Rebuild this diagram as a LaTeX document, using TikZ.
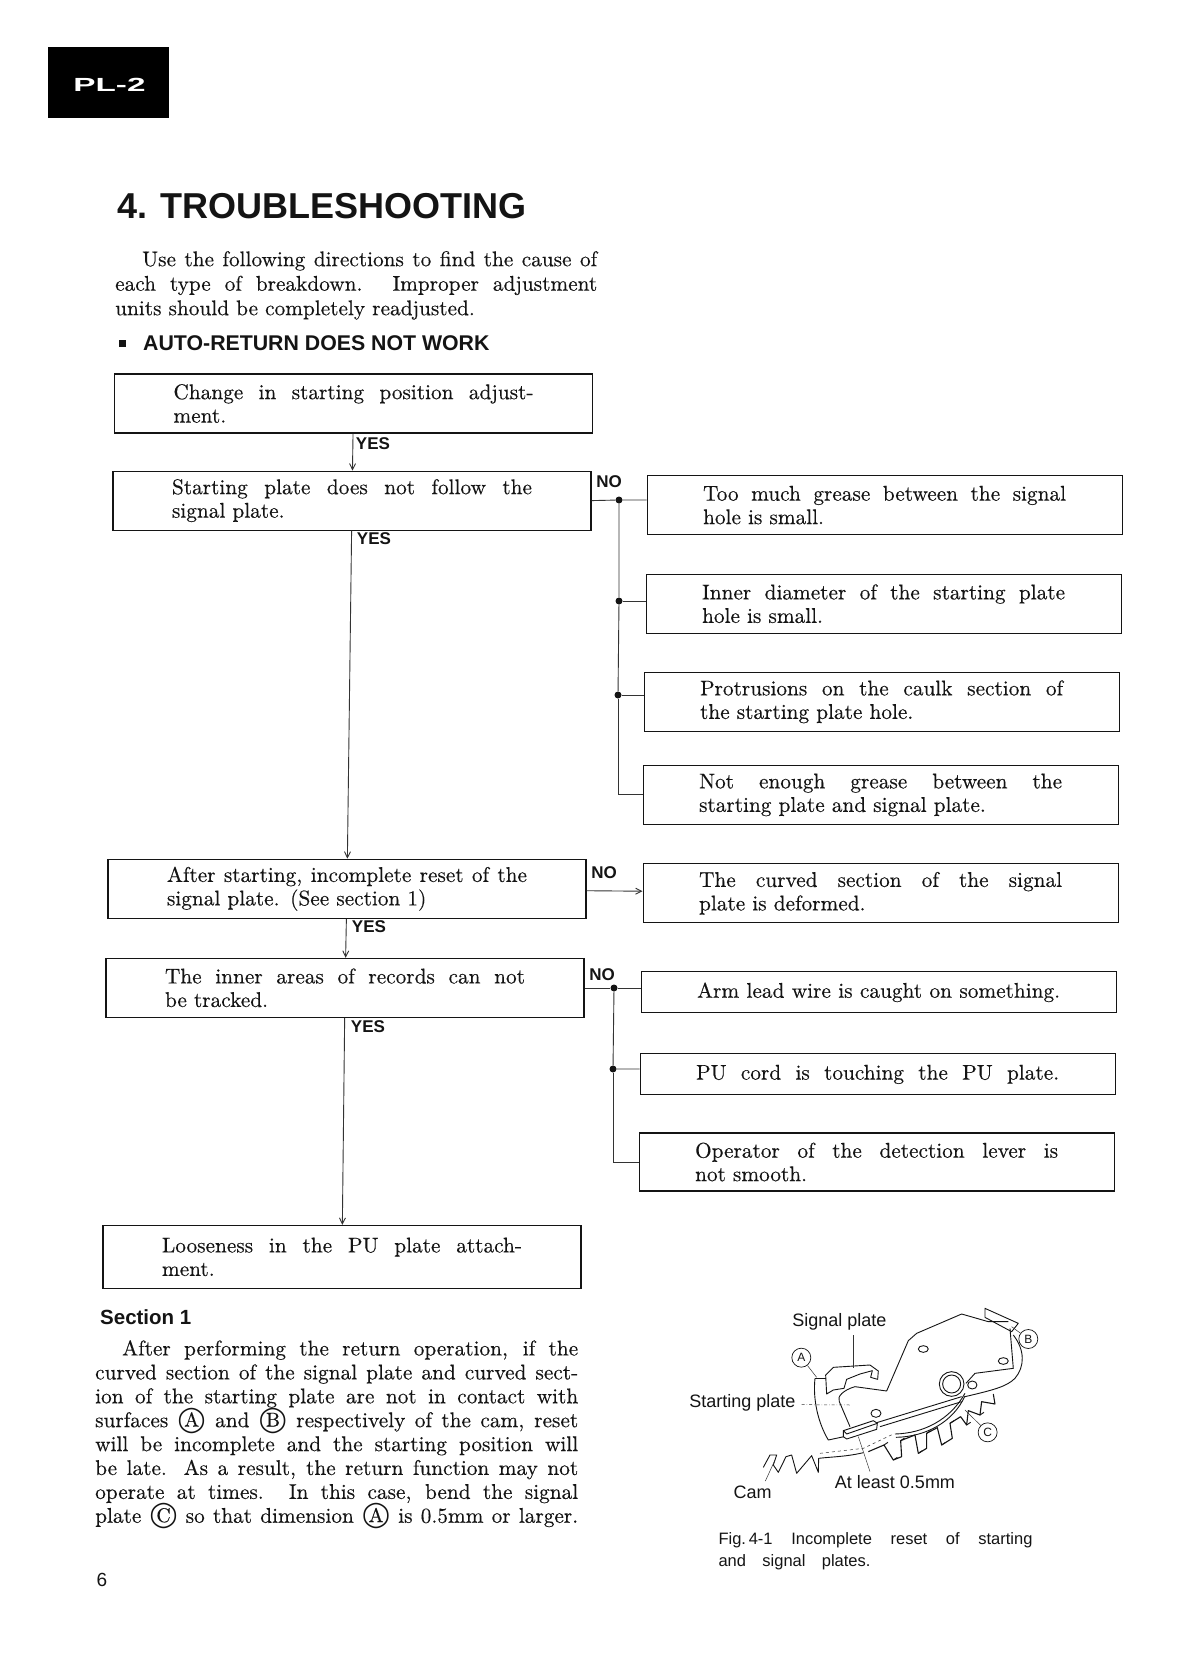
\documentclass[tikz,border=0pt]{standalone}
\usepackage{xcolor}
\usepackage{fontspec}
\usepackage{tikz}
\usetikzlibrary{arrows.meta,positioning}
\setmainfont{lmroman10-regular}[Extension=.otf,FakeBold=0.3]
\newfontfamily\headsans{Liberation Sans}
\newfontfamily\circfont{DejaVu Sans}
\definecolor{InkDark}{HTML}{141414}
\definecolor{InkLine}{HTML}{333333}
\newcommand{\jl}[1]{\makebox[\hsize][s]{\spaceskip=0pt\xspaceskip=0pt #1}}
\newcommand{\letcirc}[1]{\mbox{\ooalign{\hfil\raisebox{0.03em}{\fontsize{20}{20}\selectfont #1}\hfil\cr\hfil{\circfont\fontsize{25}{25}\selectfont ◯}\hfil\cr}}}
\tikzset{
  FB/.style={rectangle,draw=InkDark,line width=1.1pt,text=InkDark,align=left,
             inner ysep=2pt,minimum height=59pt,
             font=\fontsize{21.3}{23.5}\selectfont},
  lB/.style={FB,text width=360pt,inner xsep=59pt},
  rB/.style={FB,text width=363pt,inner xsep=56pt},
  sB/.style={rB,minimum height=41pt},
  arr/.style={InkLine,line width=0.9pt,-{Straight Barb[length=6pt,width=6pt]}},
  wire/.style={InkLine,line width=0.9pt},
  jdot/.style={circle,fill=InkDark,inner sep=0pt,minimum size=7pt},
  LY/.style={font=\headsans\bfseries\fontsize{17}{17}\selectfont,text=InkDark,inner sep=0pt},
  para/.style={align=left,anchor=north west,inner sep=0pt,text=InkDark},
  figlbl/.style={font=\headsans\fontsize{18}{18}\selectfont,text=InkDark,inner sep=0pt},
  figcirc/.style={circle,draw=InkDark,line width=0.7pt,inner sep=0pt,minimum size=19pt,
                  font=\headsans\fontsize{12}{12}\selectfont,text=InkDark},
  part/.style={InkDark,line width=0.9pt,line join=round},
  lead/.style={InkLine,line width=0.5pt}
}
\begin{document}
\begin{tikzpicture}[x=1pt,y=-1pt]
  \useasboundingbox[fill=white] (0,0) rectangle (1179,1672);

  \node[fill=black,minimum width=121pt,minimum height=71pt,inner sep=0pt] (tab) at (108.5,83) {};
  \node[text=white,font=\headsans\bfseries\fontsize{19}{19}\selectfont,inner sep=0pt] (model) at (109.5,85) {\scalebox{1.75}[1]{PL-2}};

  \node[anchor=west,inner sep=0pt,text=InkDark,font=\headsans\bfseries\fontsize{36}{36}\selectfont] (title) at (117,206) {4. TROUBLESHOOTING};
  \node[para,text width=482pt,font=\fontsize{21.3}{24.5}\selectfont] (intro) at (115,251) {%
    \jl{\hspace*{27pt}Use the following directions to find the cause of}\\
    \jl{each type of breakdown. Improper adjustment}\\
    units should be completely readjusted.};
  \node[fill=InkDark,minimum size=7pt,inner sep=0pt] (bullet) at (122,343) {};
  \node[anchor=west,inner sep=0pt,text=InkDark,font=\headsans\bfseries\fontsize{21.3}{21.3}\selectfont] (subhead) at (143,343) {AUTO-RETURN DOES NOT WORK};

  \node[lB] (change) at (353.5,403.5) {\jl{Change in starting position adjust-}\\ment.};
  \node[lB,below=37pt of change,xshift=-1.5pt] (follow) {\jl{Starting plate does not follow the}\\signal plate.};
  \node[lB,below=328pt of follow,xshift=-5pt] (reset) {\jl{After starting, incomplete reset of the}\\signal plate. (See section 1)};
  \node[lB,below=39pt of reset,xshift=-2pt] (inner) {\jl{The inner areas of records can not}\\be tracked.};
  \node[lB,below=207pt of inner,xshift=-3pt,minimum height=63pt] (loose) {\jl{Looseness in the PU plate attach-}\\ment.};

  \node[rB,right=55pt of follow,yshift=-4.5pt] (grease) {\jl{Too much grease between the signal}\\hole is small.};
  \node[rB,below=38.5pt of grease,xshift=-1pt] (diam) {\jl{Inner diameter of the starting plate}\\hole is small.};
  \node[rB,below=38pt of diam,xshift=-2pt] (caulk) {\jl{Protrusions on the caulk section of}\\the starting plate hole.};
  \node[rB,below=33pt of caulk,xshift=-1pt] (enough) {\jl{Not enough grease between the}\\starting plate and signal plate.};
  \node[rB,right=56pt of reset,yshift=-4.5pt] (curved) {\jl{The curved section of the signal}\\plate is deformed.};
  \node[sB,right=56pt of inner,yshift=-4.5pt] (arm) {\jl{Arm lead wire is caught on something.}};
  \node[sB,below=40pt of arm,xshift=-1pt] (cord) {\jl{PU cord is touching the PU plate.}};
  \node[rB,below=37pt of cord,xshift=-1pt,minimum height=58pt] (lever) {\jl{Operator of the detection lever is}\\not smooth.};

  \draw[arr](change)--(follow);
  \draw[arr](follow)--(reset);
  \draw[arr](reset)--(inner);
  \draw[arr](inner)--(loose);
  \draw[arr](reset)--(curved);

  \node[jdot] (j1) at (619,500) {};
  \node[jdot] (j2) at (619,601) {};
  \node[jdot] (j3) at (618,695) {};
  \draw[wire](follow.east)--(j1)--(j1 -| grease.west);
  \draw[wire](j1)--(j2)--(j3);
  \draw[wire](j2)--(j2 -| diam.west);
  \draw[wire](j3)--(j3 -| caulk.west);
  \draw[wire](j3)|-(enough.west);

  \node[jdot] (j4) at (614,988) {};
  \node[jdot] (j5) at (613,1069) {};
  \draw[wire](inner.east |- j4)--(j4)--(j4 -| arm.west);
  \draw[wire](j4)--(j5)--(j5 -| cord.west);
  \draw[wire](j5)|-(lever.west);

  \node[LY] (yes1) at (373,444) {YES};
  \node[LY] (yes2) at (374,539) {YES};
  \node[LY] (yes3) at (369,927) {YES};
  \node[LY] (yes4) at (368,1027) {YES};
  \node[LY] (no1) at (609,482) {NO};
  \node[LY] (no2) at (604,873) {NO};
  \node[LY] (no3) at (602,975) {NO};

  \node[anchor=west,inner sep=0pt,text=InkDark,font=\headsans\bfseries\fontsize{20.5}{20.5}\selectfont] (sect) at (100,1317) {Section 1};
  \node[para,text width=483pt,font=\fontsize{21.3}{23.9}\selectfont] (body) at (95,1340) {%
    \jl{\hspace*{27pt}After performing the return operation, if the}\\
    \jl{curved section of the signal plate and curved sect-}\\
    \jl{ion of the starting plate are not in contact with}\\
    \jl{surfaces \letcirc{A} and \letcirc{B} respectively of the cam, reset}\\
    \jl{will be incomplete and the starting position will}\\
    \jl{be late. As a result, the return function may not}\\
    \jl{operate at times. In this case, bend the signal}\\
    \jl{plate \letcirc{C} so that dimension \letcirc{A} is 0.5mm or larger.}};
  \node[inner sep=0pt,text=InkDark,font=\headsans\fontsize{19}{19}\selectfont] (pageno) at (102,1580) {6};

  \begin{scope}[shift={(660,1290)},x=0.3333pt,y=-0.3333pt]
    % signal plate
    \draw[part] (500,312)--(497,255)--(520,232)--(630,225)--(655,243)--(653,268)--(632,262)--(637,242)--(600,252)--(585,258)--(560,268)--(552,295)--(520,300)--cycle;
    \draw[part] (585,290)--(680,303)--(745,152)--(770,130)--(905,72)--(985,95)--(1045,95);
    \draw[part] (1050,115)--(1060,235)--(945,250)--(918,280);
    \draw[part] (975,55)--(1075,100)--(1055,125)--(975,82)--cycle;
    % starting plate
    \draw[part] (465,265) .. controls (458,330) and (475,400) .. (505,450)--(552,440);
    \draw[part] (465,265)--(497,265);
    \draw[part] (585,290) .. controls (550,300) and (530,320) .. (538,335)--(570,410);
    \draw[part] (1060,135) .. controls (1095,180) and (1095,230) .. (1065,265) .. controls (1040,290) and (1000,300) .. (915,320);
    \draw[part] (650,398)--(905,320);
    \draw[part] (660,410)--(905,335);
    \draw[part] (550,422)--(640,392)--(652,400)--(650,418)--(560,447)--(550,440)--cycle;
    \draw[part] (550,422)--(560,432)--(652,400);
    % holes
    \draw[part] (790,177) ellipse (15 and 10);
    \draw[part] (1030,213) ellipse (15 and 10);
    \draw[part] (875,282) circle (37);
    \draw[part] (875,282) circle (27);
    \draw[part] (937,285) ellipse (14 and 12);
    \draw[part] (648,370) ellipse (15 and 12);
    % rack
    \draw[part,line width=1.1pt] (625,485)--(672,465)--(700,510)--(725,500)--(722,452)--(765,435)--(775,490)--(800,475)--(800,430)--(832,413)--(845,465)--(877,445)--(870,400)--(902,380)--(920,405)--(925,362)--(960,375)--(965,335)--(1005,342)--(1000,312);
    \foreach \tx/\ty in {672/465,700/510,722/452,775/490,800/430,845/465,870/400,920/405,960/375}
      \draw[part] (\tx,\ty)--++(12,-8);
    % strip and cam
    \draw[part] (705,432) .. controls (790,430) and (870,390) .. (915,310);
    \draw[part] (708,442) .. controls (800,440) and (880,395) .. (915,318);
    \draw[part] (310,532)--(330,495)--(350,495)--(340,525)--(355,547)--(378,500)--(395,495)--(410,550)--(455,497)--(475,547)--(476,505) .. controls (520,500) and (560,500) .. (610,488);
    \draw[lead,dashed] (480,490)--(610,475)--(700,432);
    % labels of the figure
    \node[figlbl] (sigplate) at (538,96) {Signal plate};
    \node[figlbl] (stplate) at (247,338) {Starting plate};
    \node[figlbl] (atleast) at (705,577) {At least 0.5mm};
    \node[figlbl] (cam) at (278,607) {Cam};
    \node[figcirc] (cA) at (424,203) {A};
    \node[figcirc] (cB) at (1105,147) {B};
    \node[figcirc] (cC) at (983,427) {C};
    \coordinate (sigend) at (580,235);
    \coordinate (stend) at (570,345);
    \coordinate (camend) at (345,510);
    \coordinate (gapend) at (595,440);
    \coordinate (tipA) at (470,262);
    \coordinate (tipB) at (1055,110);
    \coordinate (tipC) at (915,360);
    \draw[lead] (sigplate.south)++(42,14)--(sigend);
    \draw[lead,dash dot] (stplate.east)++(18,6)--(stend);
    \draw[lead] (cam.north)++(38,-14)--(camend);
    \draw[lead] (atleast.north)++(-75,-12)--(gapend);
    \draw[lead] (cA)--(tipA);
    \draw[lead] (cB)--(tipB);
    \draw[lead] (cC)--(tipC);
    \node[para,text width=314pt,font=\headsans\fontsize{16.5}{22.5}\selectfont] (figcap) at (175,727) {%
      \jl{\mbox{Fig.\,4-1} Incomplete reset of starting}\\
      \makebox[152pt][s]{\spaceskip=0pt\xspaceskip=0pt and signal plates.}};
  \end{scope}
\end{tikzpicture}
\end{document}
